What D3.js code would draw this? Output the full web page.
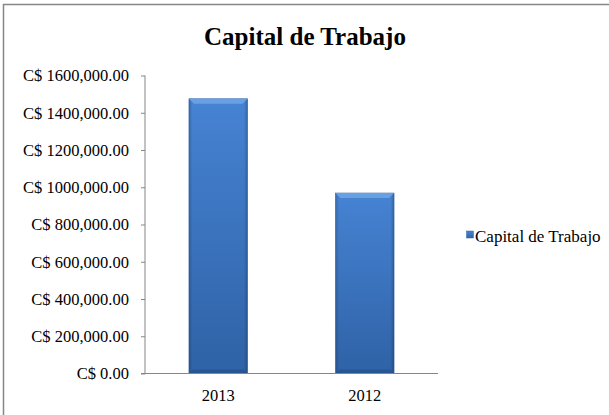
<!DOCTYPE html>
<html>
<head>
<meta charset="utf-8">
<script src="https://cdn.jsdelivr.net/npm/d3@7"></script>
<style>
  html, body { margin: 0; padding: 0; background: #fff; }
  #screen { width: 609px; height: 415px; overflow: hidden; }
  text { font-family: "Liberation Serif", "Times New Roman", serif; }
</style>
</head>
<body>
<div id="screen"></div>
<script>
// chart data
var categories = ["2013", "2012"];
var values = [1475000, 969000];
var seriesName = "Capital de Trabajo";
var chartTitle = "Capital de Trabajo";
var tickValues = [0, 200000, 400000, 600000, 800000, 1000000, 1200000, 1400000, 1600000];
var tickLabels = ["C$ 0.00", "C$ 200,000.00", "C$ 400,000.00", "C$ 600,000.00", "C$ 800,000.00",
                  "C$ 1000,000.00", "C$ 1200,000.00", "C$ 1400,000.00", "C$ 1600,000.00"];

var width = 609, height = 415;
var plot = {left: 145, right: 438, top: 75.5, bottom: 373.5};
var axisColor = "#868686";
var serif = "'Liberation Serif', 'Times New Roman', serif";

var svg = d3.select("#screen").append("svg")
    .attr("width", width).attr("height", height);

// gradients for the bevelled bars
var defs = svg.append("defs");
var grad = defs.append("linearGradient").attr("id", "barFill")
    .attr("x1", 0).attr("y1", 0).attr("x2", 0).attr("y2", 1);
grad.append("stop").attr("offset", "0%").attr("stop-color", "#4683d3");
grad.append("stop").attr("offset", "100%").attr("stop-color", "#2f62a6");

var sideGrad = defs.append("linearGradient").attr("id", "sideFill")
    .attr("x1", 0).attr("y1", 0).attr("x2", 1).attr("y2", 0);
sideGrad.append("stop").attr("offset", "0%").attr("stop-color", "#000").attr("stop-opacity", 0.18);
sideGrad.append("stop").attr("offset", "6%").attr("stop-color", "#000").attr("stop-opacity", 0);
sideGrad.append("stop").attr("offset", "94%").attr("stop-color", "#000").attr("stop-opacity", 0);
sideGrad.append("stop").attr("offset", "100%").attr("stop-color", "#000").attr("stop-opacity", 0.22);

// outer frame (runs off the right and bottom edges)
svg.append("rect")
    .attr("x", 3.5).attr("y", 4.5)
    .attr("width", 620).attr("height", 420)
    .attr("fill", "#fff")
    .attr("stroke", axisColor)
    .attr("stroke-width", 1.5);

var x = d3.scaleBand()
    .domain(categories)
    .range([plot.left, plot.right])
    .paddingInner(0.6)
    .paddingOuter(0.3);

var y = d3.scaleLinear()
    .domain([0, 1600000])
    .range([plot.bottom, plot.top]);

// bars
var bars = svg.append("g").selectAll("g")
    .data(categories)
    .join("g");

bars.append("rect")
    .attr("x", d => x(d))
    .attr("y", (d, i) => y(values[i]))
    .attr("width", x.bandwidth())
    .attr("height", (d, i) => y(0) - y(values[i]))
    .attr("fill", "url(#barFill)")
    .attr("stroke", "#3a6aa8")
    .attr("stroke-width", 0.6);

bars.append("rect")
    .attr("x", d => x(d))
    .attr("y", (d, i) => y(values[i]))
    .attr("width", x.bandwidth())
    .attr("height", (d, i) => y(0) - y(values[i]))
    .attr("fill", "url(#sideFill)");

// top bevel
bars.append("path")
    .attr("d", (d, i) => {
        var x0 = x(d), x1 = x(d) + x.bandwidth(), t = y(values[i]), b = 5;
        return "M" + x0 + "," + t + "L" + x1 + "," + t + "L" + (x1 - b) + "," + (t + b) +
               "L" + (x0 + b) + "," + (t + b) + "Z";
    })
    .attr("fill", "#6fa6e6")
    .attr("opacity", 0.85);

// bottom bevel shade
bars.append("path")
    .attr("d", (d, i) => {
        var x0 = x(d), x1 = x(d) + x.bandwidth(), bt = y(0), b = 4;
        return "M" + x0 + "," + bt + "L" + x1 + "," + bt + "L" + (x1 - b) + "," + (bt - b) +
               "L" + (x0 + b) + "," + (bt - b) + "Z";
    })
    .attr("fill", "#244f88")
    .attr("opacity", 0.6);

// y axis
var yAxis = svg.append("g")
    .attr("transform", "translate(" + plot.left + ",0)")
    .call(d3.axisLeft(y)
        .tickValues(tickValues)
        .tickFormat((d, i) => tickLabels[i])
        .tickSize(4)
        .tickPadding(12));
yAxis.attr("font-family", null);
yAxis.select(".domain").attr("stroke", axisColor).attr("d", "M0," + plot.top + "V" + plot.bottom);
yAxis.selectAll(".tick line").attr("stroke", axisColor);
yAxis.selectAll(".tick text")
    .attr("fill", "#000")
    .style("font-size", "16.5px")
    .style("font-family", serif);

// x axis
var xAxis = svg.append("g")
    .attr("transform", "translate(0," + plot.bottom + ")")
    .call(d3.axisBottom(x).tickSize(0).tickPadding(16));
xAxis.attr("font-family", null);
xAxis.select(".domain").attr("stroke", axisColor).attr("d", "M" + (plot.left - 4) + ",0H" + plot.right);
xAxis.selectAll(".tick text")
    .attr("fill", "#000")
    .style("font-size", "16.5px")
    .style("font-family", serif);

// title
svg.append("text")
    .attr("x", 305)
    .attr("y", 45)
    .attr("text-anchor", "middle")
    .style("font-size", "25px")
    .style("font-weight", "bold")
    .style("font-family", serif)
    .text(chartTitle);

// legend
var legend = svg.append("g").attr("transform", "translate(466.5,231)");
legend.append("rect")
    .attr("width", 7).attr("height", 7)
    .attr("fill", "url(#barFill)")
    .attr("stroke", "#3a6aa8")
    .attr("stroke-width", 0.5);
legend.append("text")
    .attr("x", 8.5)
    .attr("y", 11)
    .style("font-size", "17px")
    .style("font-family", serif)
    .text(seriesName);
</script>
</body>
</html>
